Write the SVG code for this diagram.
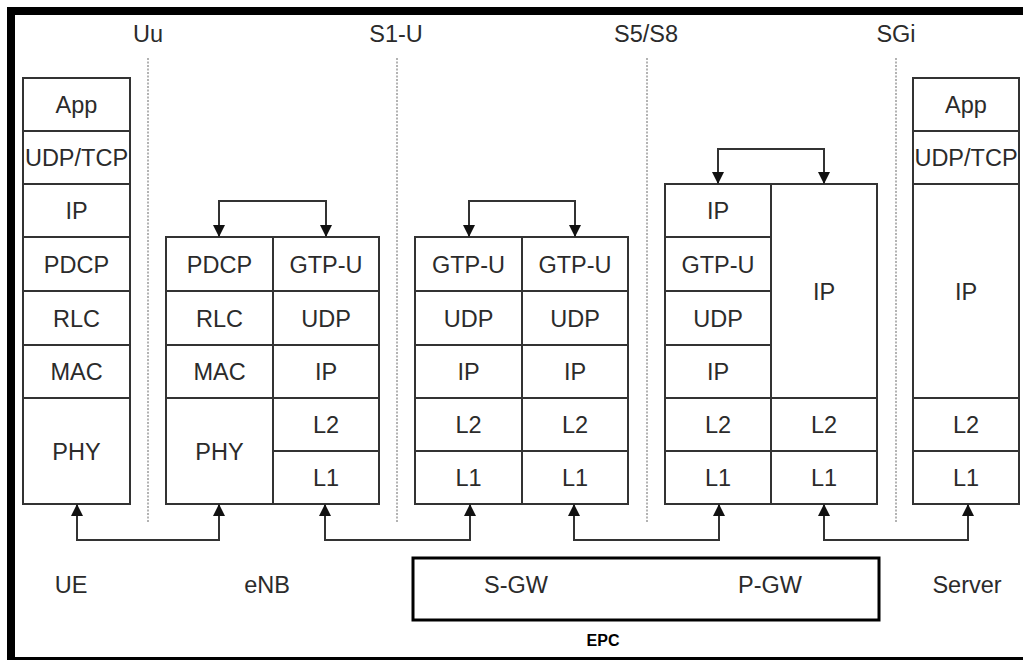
<svg xmlns="http://www.w3.org/2000/svg" width="1023" height="660" viewBox="0 0 1023 660">
<style>
.box{fill:#fff;stroke:#333;stroke-width:2}
.ln{stroke:#333;stroke-width:2;fill:none}
.t{font-family:"Liberation Sans",Arial,sans-serif;font-size:23.5px;fill:#2b2b2b;text-anchor:middle}
.dot{stroke:#9a9a9a;stroke-width:1.5;stroke-dasharray:2,1.5;fill:none}
.con{stroke:#333;stroke-width:2;fill:none;marker-start:url(#ah);marker-end:url(#ah)}
</style>
<defs>
<marker id="ah" viewBox="0 0 10 10" refX="10" refY="5" markerUnits="userSpaceOnUse" markerWidth="15" markerHeight="12" orient="auto-start-reverse">
<path d="M0,0 L10,5 L0,10 z" fill="#111"/>
</marker>
</defs>
<rect x="0" y="0" width="1023" height="660" fill="#fff"/>
<rect x="11" y="11" width="1022" height="650" fill="none" stroke="#000" stroke-width="8"/>

<g id="interfaces">
<line class="dot" x1="148" y1="58" x2="148" y2="522"/>
<line class="dot" x1="397" y1="58" x2="397" y2="522"/>
<line class="dot" x1="647" y1="58" x2="647" y2="522"/>
<line class="dot" x1="896" y1="58" x2="896" y2="522"/>
<text class="t" x="148" y="42">Uu</text>
<text class="t" x="396" y="42">S1-U</text>
<text class="t" x="646" y="42">S5/S8</text>
<text class="t" x="896" y="42">SGi</text>
</g>

<g id="ue">
<rect class="box" x="23" y="78" width="107" height="426"/>
<path class="ln" d="M23,131H130M23,184H130M23,237H130M23,291H130M23,345H130M23,398H130"/>
<text class="t" x="76.5" y="112.5">App</text>
<text class="t" x="76.5" y="165.5">UDP/TCP</text>
<text class="t" x="76.5" y="218.5">IP</text>
<text class="t" x="76.5" y="272.5">PDCP</text>
<text class="t" x="76.5" y="326.5">RLC</text>
<text class="t" x="76.5" y="379.5">MAC</text>
<text class="t" x="76.5" y="459.5">PHY</text>
<text class="t" x="71" y="593">UE</text>
</g>

<g id="enb">
<rect class="box" x="166" y="237" width="213" height="267"/>
<path class="ln" d="M273,237V504M166,291H379M166,345H379M166,398H379M273,451H379"/>
<text class="t" x="219.5" y="272.5">PDCP</text>
<text class="t" x="219.5" y="326.5">RLC</text>
<text class="t" x="219.5" y="379.5">MAC</text>
<text class="t" x="219.5" y="459.5">PHY</text>
<text class="t" x="326" y="272.5">GTP-U</text>
<text class="t" x="326" y="326.5">UDP</text>
<text class="t" x="326" y="379.5">IP</text>
<text class="t" x="326" y="432.5">L2</text>
<text class="t" x="326" y="485.5">L1</text>
<text class="t" x="267" y="593">eNB</text>
</g>

<g id="sgw">
<rect class="box" x="415" y="237" width="213" height="267"/>
<path class="ln" d="M522,237V504M415,291H628M415,345H628M415,398H628M415,451H628"/>
<text class="t" x="468.5" y="272.5">GTP-U</text>
<text class="t" x="468.5" y="326.5">UDP</text>
<text class="t" x="468.5" y="379.5">IP</text>
<text class="t" x="468.5" y="432.5">L2</text>
<text class="t" x="468.5" y="485.5">L1</text>
<text class="t" x="575" y="272.5">GTP-U</text>
<text class="t" x="575" y="326.5">UDP</text>
<text class="t" x="575" y="379.5">IP</text>
<text class="t" x="575" y="432.5">L2</text>
<text class="t" x="575" y="485.5">L1</text>
</g>

<g id="pgw">
<rect class="box" x="665" y="184" width="212" height="320"/>
<path class="ln" d="M771,184V504M665,237H771M665,291H771M665,345H771M665,398H877M665,451H877"/>
<text class="t" x="718" y="218.5">IP</text>
<text class="t" x="718" y="272.5">GTP-U</text>
<text class="t" x="718" y="326.5">UDP</text>
<text class="t" x="718" y="379.5">IP</text>
<text class="t" x="718" y="432.5">L2</text>
<text class="t" x="718" y="485.5">L1</text>
<text class="t" x="824" y="299.5">IP</text>
<text class="t" x="824" y="432.5">L2</text>
<text class="t" x="824" y="485.5">L1</text>
</g>

<g id="server">
<rect class="box" x="913" y="78" width="106" height="426"/>
<path class="ln" d="M913,131H1019M913,184H1019M913,398H1019M913,451H1019"/>
<text class="t" x="966" y="112.5">App</text>
<text class="t" x="966" y="165.5">UDP/TCP</text>
<text class="t" x="966" y="299.5">IP</text>
<text class="t" x="966" y="432.5">L2</text>
<text class="t" x="966" y="485.5">L1</text>
<text class="t" x="967" y="593">Server</text>
</g>

<g id="epc">
<rect x="413" y="558" width="466" height="62" fill="none" stroke="#000" stroke-width="3"/>
<text class="t" x="516" y="593">S-GW</text>
<text class="t" x="770" y="593">P-GW</text>
<text x="603" y="646" font-family="Liberation Sans,Arial,sans-serif" font-size="16" font-weight="bold" fill="#000" text-anchor="middle">EPC</text>
</g>

<g id="connectors">
<path class="con" d="M219,237V201H326V237"/>
<path class="con" d="M469,237V201H575V237"/>
<path class="con" d="M718,184V149H824V184"/>
<path class="con" d="M77,504V540H219V504"/>
<path class="con" d="M325,504V540H470V504"/>
<path class="con" d="M574,504V540H719V504"/>
<path class="con" d="M824,504V540H968V504"/>
</g>
</svg>
